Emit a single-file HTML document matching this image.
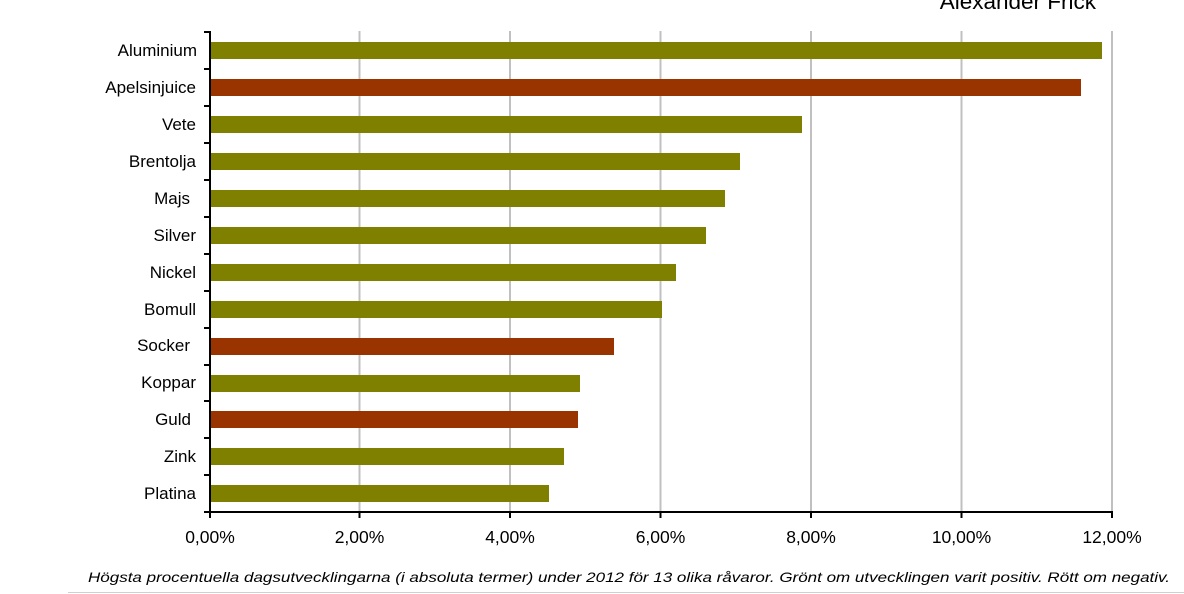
<!DOCTYPE html>
<html><head><meta charset="utf-8"><style>html,body{margin:0;padding:0;background:#fff}svg{display:block}</style></head>
<body>
<svg width="1184" height="594" xmlns="http://www.w3.org/2000/svg" font-family="Liberation Sans, Arial, sans-serif">
<text x="1096" y="9" font-size="22.5" text-anchor="end" fill="#000">Alexander Frick</text>
<g stroke="#c0c0c0" stroke-width="2">
<line x1="359.5" y1="31" x2="359.5" y2="512"/>
<line x1="510" y1="31" x2="510" y2="512"/>
<line x1="660.5" y1="31" x2="660.5" y2="512"/>
<line x1="811" y1="31" x2="811" y2="512"/>
<line x1="961.5" y1="31" x2="961.5" y2="512"/>
<line x1="1112" y1="31" x2="1112" y2="512"/>
</g>
<g>
<rect x="211" y="42" width="891" height="17" fill="#808000"/>
<rect x="211" y="79" width="870" height="17" fill="#993300"/>
<rect x="211" y="116" width="591" height="17" fill="#808000"/>
<rect x="211" y="153" width="529" height="17" fill="#808000"/>
<rect x="211" y="190" width="514" height="17" fill="#808000"/>
<rect x="211" y="227" width="495" height="17" fill="#808000"/>
<rect x="211" y="264" width="465" height="17" fill="#808000"/>
<rect x="211" y="301" width="451" height="17" fill="#808000"/>
<rect x="211" y="338" width="403" height="17" fill="#993300"/>
<rect x="211" y="375" width="369" height="17" fill="#808000"/>
<rect x="211" y="411" width="367" height="17" fill="#993300"/>
<rect x="211" y="448" width="353" height="17" fill="#808000"/>
<rect x="211" y="485" width="338" height="17" fill="#808000"/>
</g>
<g stroke="#000" stroke-width="2">
<line x1="210" y1="31" x2="210" y2="513"/>
<line x1="209" y1="512" x2="1113" y2="512"/>
<path d="M204 32H210M204 69H210M204 106H210M204 143H210M204 180H210M204 217H210M204 254H210M204 291H210M204 328H210M204 365H210M204 401H210M204 438H210M204 475H210M204 512H210"/>
<path d="M210 512V518M359.5 512V518M510 512V518M660.5 512V518M811 512V518M961.5 512V518M1112 512V518"/>
</g>
<g font-size="17" text-anchor="end" fill="#000">
<text x="197" y="56">Aluminium</text>
<text x="196" y="93">Apelsinjuice</text>
<text x="196" y="130">Vete</text>
<text x="196" y="167">Brentolja</text>
<text x="190" y="204">Majs</text>
<text x="196" y="241">Silver</text>
<text x="196" y="278">Nickel</text>
<text x="196" y="315">Bomull</text>
<text x="190" y="351">Socker</text>
<text x="196" y="388">Koppar</text>
<text x="191" y="425">Guld</text>
<text x="196" y="462">Zink</text>
<text x="196" y="499">Platina</text>
</g>
<g font-size="17.5" text-anchor="middle" fill="#000">
<text x="210" y="543">0,00%</text>
<text x="359.5" y="543">2,00%</text>
<text x="510" y="543">4,00%</text>
<text x="660.5" y="543">6,00%</text>
<text x="811" y="543">8,00%</text>
<text x="961.5" y="543">10,00%</text>
<text x="1112" y="543">12,00%</text>
</g>
<text x="88" y="582" font-size="14" font-style="italic" fill="#000" textLength="1082" lengthAdjust="spacingAndGlyphs">Högsta procentuella dagsutvecklingarna (i absoluta termer) under 2012 för 13 olika råvaror. Grönt om utvecklingen varit positiv. Rött om negativ.</text>
<line x1="68" y1="592.5" x2="1184" y2="592.5" stroke="#d0d0d0" stroke-width="1"/>
</svg>
</body></html>
